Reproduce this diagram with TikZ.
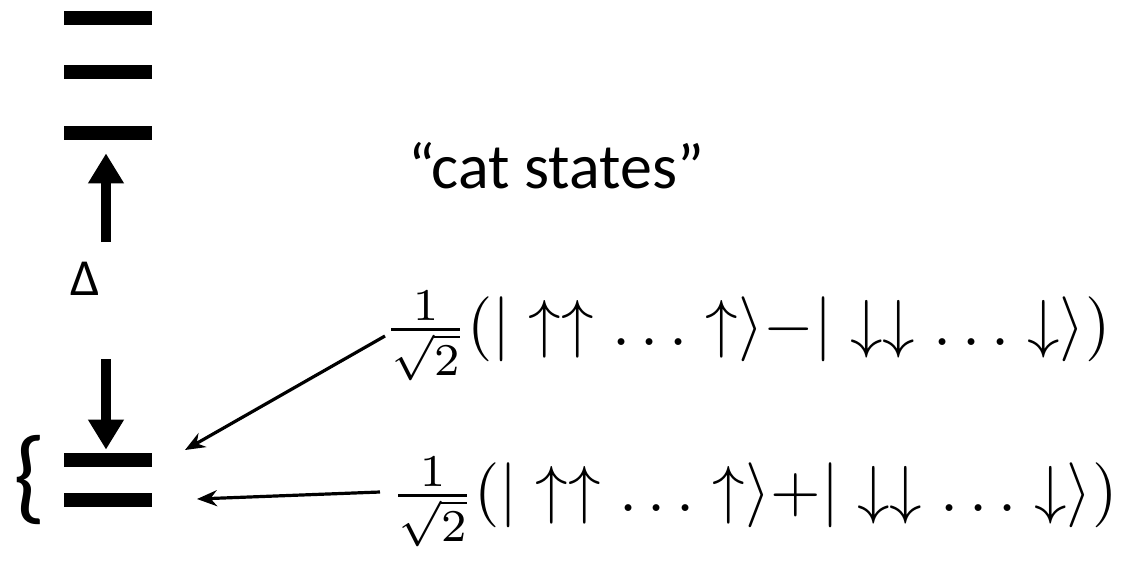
\documentclass[tikz,border=0pt]{standalone}
\usepackage{amsmath}
\usepackage{graphicx}
\usepackage{fontspec}
\setmainfont{Carlito}
\usepackage{tikz}
\usetikzlibrary{arrows.meta}
\usetikzlibrary{positioning}

\newcommand{\catbig}[1]{\scalebox{3.25}{$#1$}}

\begin{document}
\begin{tikzpicture}[x=0.5pt,y=-0.5pt,
  level/.style={fill=black,inner sep=0pt,minimum width=44pt,minimum height=7pt},
  gap/.style={line width=5pt,-{Triangle[width=17pt,length=15pt]}},
  thin/.style={line width=1.6pt,-{Stealth[width=8pt,length=10pt]}},
  catstate/.style={anchor=west,inner sep=0pt}]
\useasboundingbox (0,0) rectangle (1123,583);
% energy levels
\foreach \name/\y in {lvA/18,lvB/72,lvC/133,lvD/460,lvE/500}
  \node[level] (\name) at (108,\y) {};
\node[font=\fontsize{26}{30}\selectfont] (gap) at (85,279) {Δ};
\coordinate (upbase) at (106,242);
\coordinate (downbase) at (106,359);
\draw[gap,shorten >=6.5pt] (upbase) -- (upbase |- lvC.south);
\draw[gap,shorten >=1.5pt] (downbase) -- (downbase |- lvD.north);
\node[font=\fontsize{52}{60}\selectfont] (brace) at (30,480) {\{};
% cat states
\node[font=\fontsize{32}{38}\selectfont,anchor=west] (title) at (401,166) {“cat states”};
\node[catstate] (catminus) at (383,336)
  {\catbig{\frac{1}{\sqrt{2}}(|\uparrow\uparrow\ldots\uparrow\rangle{-}|\downarrow\downarrow\ldots\downarrow\rangle)}};
\node[catstate] (catplus) at (390,502)
  {\catbig{\frac{1}{\sqrt{2}}(|\uparrow\uparrow\ldots\uparrow\rangle{+}|\downarrow\downarrow\ldots\downarrow\rangle)}};
\coordinate (tipminus) at (185,450);
\coordinate (tipplus) at (197,499);
\draw[thin] ([xshift=1pt]catminus.west) -- (tipminus);
\draw[thin] ([xshift=-5pt,yshift=5pt]catplus.west) -- (tipplus);
\end{tikzpicture}
\end{document}
